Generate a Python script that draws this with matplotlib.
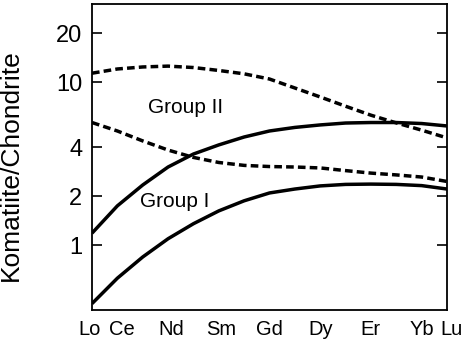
import matplotlib

matplotlib.use("Agg")
import matplotlib.pyplot as plt
import matplotlib.transforms as mtransforms
from matplotlib.ticker import FixedLocator, NullLocator, FixedFormatter
import numpy as np

plt.rcParams["font.family"] = ["Liberation Sans", "DejaVu Sans"]

# atomic numbers La..Lu, curves at every integer position
atomic_number = np.arange(57, 72)
group2_upper = [11.4, 12.1, 12.45, 12.6, 12.35, 11.85, 11.3, 10.5, 9.25, 8.15, 7.15, 6.3, 5.65, 5.1, 4.57]
group2_lower = [5.68, 5.04, 4.38, 3.85, 3.47, 3.23, 3.10, 3.05, 3.03, 2.99, 2.88, 2.78, 2.71, 2.63, 2.47]
group1_upper = [1.19, 1.75, 2.35, 3.03, 3.64, 4.14, 4.63, 5.04, 5.30, 5.49, 5.64, 5.68, 5.68, 5.60, 5.41]
group1_lower = [0.44, 0.63, 0.85, 1.10, 1.36, 1.63, 1.88, 2.10, 2.22, 2.32, 2.37, 2.38, 2.37, 2.33, 2.22]

label_elements = ["Lo", "Ce", "Nd", "Sm", "Gd", "Dy", "Er", "Yb", "Lu"]
label_positions = [57, 58, 60, 62, 64, 66, 68, 70, 71]
inner_ticks = [58, 60, 62, 64, 66, 68, 70]
y_ticks = [1, 2, 4, 10, 20]

fig = plt.figure(figsize=(4.68, 3.44), dpi=100)
ax = fig.add_axes([92 / 468, 1 - 310 / 344, 355 / 468, 306 / 344])

lw = 2.5
dash = (0, (2.2, 1.2))
ax.plot(atomic_number, group2_upper, color="black", linewidth=lw, linestyle=dash)
ax.plot(atomic_number, group2_lower, color="black", linewidth=lw, linestyle=dash)
ax.plot(atomic_number, group1_upper, color="black", linewidth=lw, solid_capstyle="butt")
ax.plot(atomic_number, group1_lower, color="black", linewidth=lw, solid_capstyle="butt")

ax.text(60.69, 6.5, "Group II", fontsize=15, ha="center", va="baseline")
ax.text(60.25, 1.72, "Group I", fontsize=15, ha="center", va="baseline")

ax.set_yscale("log")
ax.set_xlim(57, 71)
ax.set_ylim(0.402, 30.3)

ax.xaxis.set_major_locator(FixedLocator(label_positions))
ax.xaxis.set_major_formatter(FixedFormatter(label_elements))
ax.xaxis.set_minor_locator(FixedLocator(inner_ticks))
ax.tick_params(axis="x", which="major", length=0, pad=7, labelsize=14.5)
ax.tick_params(axis="x", which="minor", direction="in", length=7, width=1.2, top=True, bottom=True)

ax.yaxis.set_major_locator(FixedLocator(y_ticks))
ax.yaxis.set_major_formatter(FixedFormatter([str(v) for v in y_ticks]))
ax.yaxis.set_minor_locator(NullLocator())
ax.tick_params(axis="y", which="major", direction="in", length=7, width=1.2,
               left=True, right=True, pad=7, labelsize=17)

for spine in ax.spines.values():
    spine.set_linewidth(1.3)

ax.set_ylabel("Komatiite/Chondrite", fontsize=19)
ax.yaxis.set_label_coords(-0.194, 0.474)

# nudge the crowded end labels apart a little, as in the original
fig.canvas.draw()
nudges = {"Lo": -2, "Ce": 3, "Nd": 2, "Sm": 2, "Lu": 3}
for tick in ax.xaxis.get_major_ticks():
    text = tick.label1.get_text()
    if text in nudges:
        shift = mtransforms.ScaledTranslation(nudges[text] / 72, 0, fig.dpi_scale_trans)
        tick.label1.set_transform(tick.label1.get_transform() + shift)

fig.savefig("out.png", dpi=100)
